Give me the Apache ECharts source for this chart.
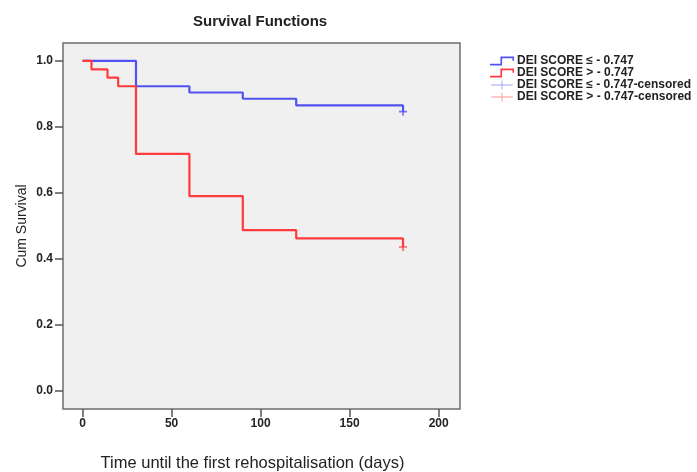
<!DOCTYPE html>
<html>
<head>
<meta charset="utf-8">
<script src="https://cdn.jsdelivr.net/npm/echarts@6/dist/echarts.min.js"></script>
<style>
  html, body { margin: 0; padding: 0; background: #ffffff; }
  #chart { width: 697px; height: 472px; }
</style>
</head>
<body>
<div id="chart"></div>
<script>
// Kaplan-Meier estimates: each value holds from its time onward
const lowTimes = [0, 30, 60, 90, 120, 180];
const lowSurvival = [1.0, 0.923, 0.904, 0.885, 0.865, 0.846];
const highTimes = [0, 5, 14, 20, 30, 60, 90, 120, 180];
const highSurvival = [1.0, 0.974, 0.949, 0.923, 0.718, 0.590, 0.487, 0.462, 0.436];

// Censored observations (time, survival)
const lowCensoredTimes = [180];
const lowCensoredSurvival = [0.846];
const highCensoredTimes = [180];
const highCensoredSurvival = [0.436];

const xTicks = [0, 50, 100, 150, 200];
const yTicks = [0.0, 0.2, 0.4, 0.6, 0.8, 1.0];

const seriesNames = [
  'DEI SCORE \u2264 - 0.747',
  'DEI SCORE > - 0.747',
  'DEI SCORE \u2264 - 0.747-censored',
  'DEI SCORE > - 0.747-censored'
];

const BLUE = '#5252f2';
const RED = '#ff3b3b';
const FONT = '"Liberation Sans", Arial, sans-serif';

const pairs = (xs, ys) => xs.map((x, i) => [x, ys[i]]);

// plus-shaped marker drawn as a filled outline
const PLUS = 'path://M4,0 L6,0 L6,4 L10,4 L10,6 L6,6 L6,10 L4,10 L4,6 L0,6 L0,4 L4,4 Z';
const PLUS_THIN = 'path://M11.5,0 L12.5,0 L12.5,4.5 L24,4.5 L24,5.5 L12.5,5.5 L12.5,10 L11.5,10 L11.5,5.5 L0,5.5 L0,4.5 L11.5,4.5 Z';
// step-shaped legend icon
const STEP = 'path://M0,7 L10,7 L10,0 L23,0 L23,4 L21.5,4 L21.5,1.6 L11.6,1.6 L11.6,8.6 L0,8.6 Z';

const chart = echarts.init(document.getElementById('chart'), null, { renderer: 'canvas' });

chart.setOption({
  animation: false,
  backgroundColor: '#ffffff',
  title: {
    text: 'Survival Functions',
    left: 188,
    top: 9,
    textStyle: { fontFamily: FONT, fontSize: 15, fontWeight: 'bold', color: '#222' }
  },
  legend: {
    orient: 'vertical',
    left: 490,
    top: 55,
    itemWidth: 24,
    itemHeight: 9,
    itemGap: 0,
    padding: 0,
    selectedMode: false,
    textStyle: {
      fontFamily: FONT, fontSize: 12, fontWeight: 'bold', color: '#222',
      lineHeight: 9.5, padding: [0, 0, 0, -2]
    },
    data: [
      { name: seriesNames[0], icon: STEP, itemStyle: { color: BLUE } },
      { name: seriesNames[1], icon: STEP, itemStyle: { color: RED } },
      { name: seriesNames[2], icon: PLUS_THIN, itemStyle: { color: '#8a8af5' } },
      { name: seriesNames[3], icon: PLUS_THIN, itemStyle: { color: '#ff7a7a' } }
    ]
  },
  grid: {
    left: 63, right: 237, top: 43, bottom: 63,
    outerBoundsMode: 'none',
    containLabel: false,
    show: true,
    backgroundColor: '#f0f0f0',
    borderColor: '#6e6e6e',
    borderWidth: 1.5
  },
  xAxis: {
    type: 'value',
    min: -11,
    max: 212,
    name: 'Time until the first rehospitalisation (days)',
    nameLocation: 'middle',
    nameGap: 46,
    nameTextStyle: { fontFamily: FONT, fontSize: 16.5, color: '#222', padding: [0, 18, 0, 0] },
    splitLine: { show: false },
    axisLine: { show: false, onZero: false },
    axisTick: { show: true, customValues: xTicks, length: 8, lineStyle: { color: '#555', width: 1.5 } },
    axisLabel: {
      customValues: xTicks,
      margin: 9,
      fontFamily: FONT, fontSize: 12, fontWeight: 'bold', color: '#222'
    }
  },
  yAxis: {
    type: 'value',
    min: -0.055,
    max: 1.054,
    name: 'Cum Survival',
    nameLocation: 'middle',
    nameMoveOverlap: false,
    nameGap: 34,
    nameTextStyle: { fontFamily: FONT, fontSize: 14, color: '#222' },
    splitLine: { show: false },
    axisLine: { show: false, onZero: false },
    axisTick: { show: true, customValues: yTicks, length: 8, lineStyle: { color: '#555', width: 1.5 } },
    axisLabel: {
      customValues: yTicks,
      margin: 10,
      formatter: v => v.toFixed(1),
      fontFamily: FONT, fontSize: 12, fontWeight: 'bold', color: '#222'
    }
  },
  series: [
    {
      name: seriesNames[0],
      type: 'line',
      step: 'end',
      data: pairs(lowTimes, lowSurvival),
      showSymbol: false,
      lineStyle: { color: BLUE, width: 2.2 },
      itemStyle: { color: BLUE },
      z: 3
    },
    {
      name: seriesNames[1],
      type: 'line',
      step: 'end',
      data: pairs(highTimes, highSurvival),
      showSymbol: false,
      lineStyle: { color: RED, width: 2.2 },
      itemStyle: { color: RED },
      z: 4
    },
    {
      name: seriesNames[2],
      type: 'scatter',
      data: pairs(lowCensoredTimes, lowCensoredSurvival),
      symbol: PLUS,
      symbolSize: 8,
      itemStyle: { color: BLUE },
      z: 5
    },
    {
      name: seriesNames[3],
      type: 'scatter',
      data: pairs(highCensoredTimes, highCensoredSurvival),
      symbol: PLUS,
      symbolSize: 8,
      itemStyle: { color: RED },
      z: 5
    }
  ]
});
</script>
</body>
</html>
